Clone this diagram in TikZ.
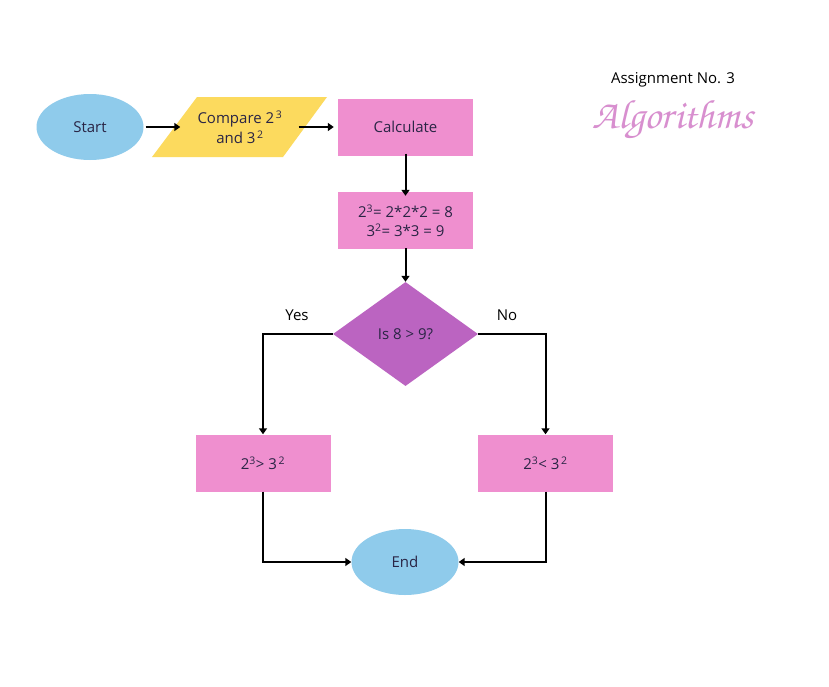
\documentclass[tikz,border=0pt]{standalone}
\usepackage{fontspec}
\setmainfont{Open Sans}
\newfontfamily\chorus{TeX Gyre Chorus}
\usetikzlibrary{shapes.geometric,arrows.meta}
\definecolor{cblue}{HTML}{8FCBEB}
\definecolor{cyellow}{HTML}{FCDA5E}
\definecolor{cpink}{HTML}{EF8FCF}
\definecolor{cpurple}{HTML}{BB64C1}
\definecolor{ctext}{HTML}{2A2545}
\definecolor{calgo}{HTML}{D88FCF}
\tikzset{
  term/.style={ellipse, fill=cblue, minimum width=107pt, minimum height=66pt, inner sep=0pt, text=ctext, font=\fontsize{15}{17}\selectfont},
  pbox/.style={rectangle, fill=cpink, minimum width=135pt, minimum height=57pt, inner sep=0pt, text=ctext, font=\fontsize{15}{19}\selectfont, align=center},
  dec/.style={diamond, fill=cpurple, minimum width=145pt, minimum height=104pt, inner sep=0pt, aspect=1.4, text=ctext, font=\fontsize{15}{17}\selectfont},
  lbl/.style={font=\fontsize{15}{17}\selectfont, text=black},
  conn/.style={line width=2pt, -{Triangle[length=6pt,width=8pt]}},
}
\newcommand{\sps}[1]{\textsuperscript{\,#1}}
\begin{document}
\begin{tikzpicture}[x=1pt,y=-1pt]
\useasboundingbox (0,0) rectangle (829,686);
\fill[white] (0,0) rectangle (829,686);
% nodes
\node[term] (start) at (90,127) {Start};
\fill[cyellow] (152,157) -- (197,97) -- (327,97) -- (283,157) -- cycle;
\node[rectangle, minimum width=119pt, minimum height=60pt, inner sep=0pt, align=center, text=ctext, font=\fontsize{15}{20}\selectfont] (cmp) at (240,127) {Compare 2\sps{3}\\and 3\sps{2}};
\node[pbox] (calc) at (405.5,127) {Calculate};
\node[pbox] (work) at (405.5,220.5) {2\textsuperscript{3}= 2*2*2 = 8\\3\textsuperscript{2}= 3*3 = 9};
\node[dec] (q) at (405.5,334) {Is 8 > 9?};
\node[pbox] (yes) at (263,463) {2\textsuperscript{3}> 3\sps{2}};
\node[pbox] (no) at (545.5,463) {2\textsuperscript{3}< 3\sps{2}};
\node[term] (end) at (405,562) {End};
\node[lbl] (ylab) at (297,315) {Yes};
\node[lbl] (nlab) at (507,315) {No};
\node[font=\fontsize{15}{17}\selectfont, text=black] (assign) at (673,80) {Assignment No. 3};
\node[font=\chorus\fontsize{41}{44}\selectfont, text=calgo] (algo) at (673,120) {Algorithms};
% connectors
\draw[conn] ([xshift=2pt]start.east) -- (cmp.west);
\draw[conn] ([xshift=-1pt]cmp.east) -- ([xshift=-4pt]calc.west);
\draw[conn] ([yshift=2pt]calc.south) -- ([yshift=-4pt]work.north);
\draw[conn] ([yshift=1pt]work.south) -- (q.north);
\draw[conn] (q.west) -| (yes.north);
\draw[conn] (q.east) -| (no.north);
\draw[conn] (yes.south) |- (end.west);
\draw[conn] (no.south) |- (end.east);
\end{tikzpicture}
\end{document}
